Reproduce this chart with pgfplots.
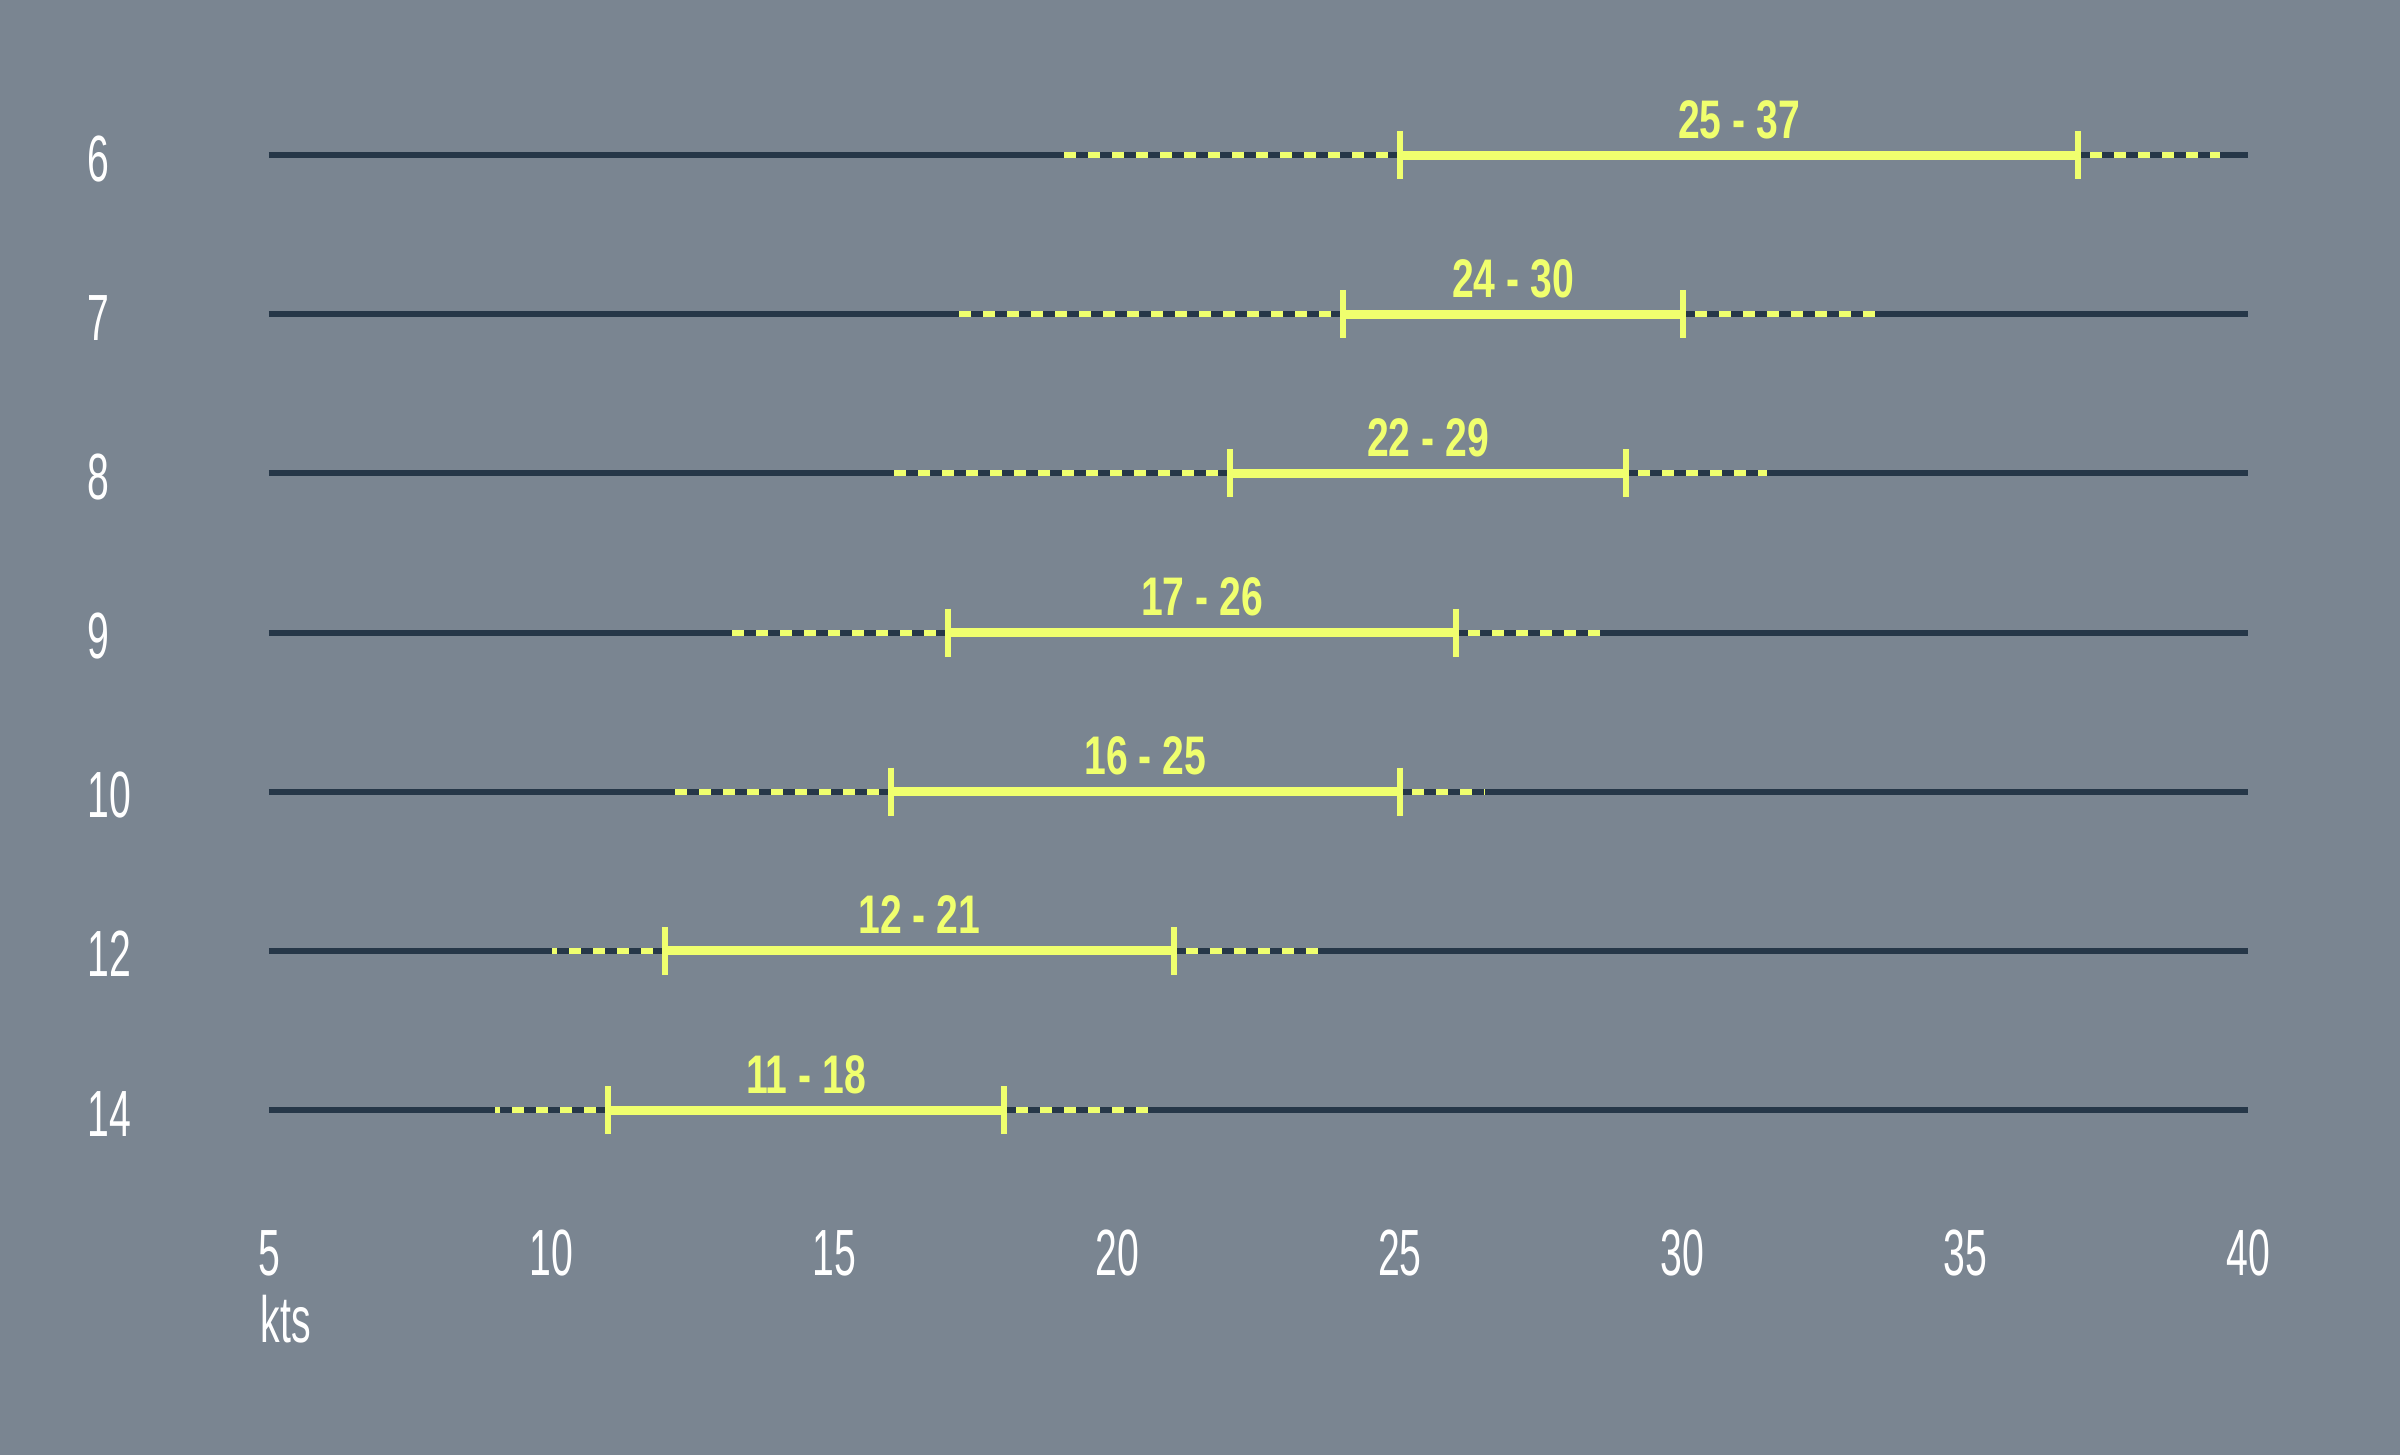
\documentclass[border=0pt]{standalone}
\usepackage{fontspec}
\setmainfont{Liberation Sans}[FakeStretch=0.6]
\newfontfamily\labfont{Liberation Sans}[FakeStretch=0.72]
\usepackage{pgfplots}
\pgfplotsset{compat=1.18}

\definecolor{bg}{RGB}{122,133,145}
\definecolor{rail}{RGB}{38,55,72}
\definecolor{hi}{RGB}{240,255,110}

\tikzset{
  lab/.style={pos=0.5, anchor=base, yshift=5.1pt, inner sep=0pt, text=hi,
    font=\labfont\bfseries\fontsize{16.3}{18}\selectfont},
}
\pgfplotsset{
  railline/.style={rail, line width=1.8pt, forget plot},
  ext/.style={hi, line width=1.8pt, dash pattern=on 3.6pt off 3.6pt, dash phase=3.6pt, forget plot},
  span/.style={hi, line width=2.7pt, mark=|, mark size=7.2pt,
    mark options={line width=1.8pt, solid}, forget plot},
}

\begin{document}
\begin{tikzpicture}
\fill[bg] (0,0) rectangle (720pt,436.5pt);
\begin{axis}[
  at={(80.7pt,103.5pt)}, anchor=south west,
  scale only axis,
  width=593.7pt, height=286.5pt,
  xmin=5, xmax=40,
  ymin=0, ymax=6, y dir=reverse,
  clip=false,
  axis line style={draw=none},
  major tick length=0pt,
  xtick={5,10,15,20,25,30,35,40},
  xticklabels={5,10,15,20,25,30,35,40},
  ytick={0,1,2,3,4,5,6},
  yticklabels={6,7,8,9,10,12,14},
  tick label style={text=white, inner sep=0pt, font=\fontsize{19.6}{22}\selectfont},
  xticklabel style={anchor=base, yshift=-49.5pt},
  yticklabel style={anchor=base west, xshift=-54.7pt, yshift=-7.8pt},
]
% row 6
\addplot[railline] coordinates {(5,0) (40,0)};
\addplot[ext] coordinates {(25,0) (19,0)};
\addplot[ext] coordinates {(37,0) (39.5,0)};
\addplot[span] coordinates {(25,0) (37,0)} node[lab] {25 - 37};
% row 7
\addplot[railline] coordinates {(5,1) (40,1)};
\addplot[ext] coordinates {(24,1) (17,1)};
\addplot[ext] coordinates {(30,1) (33.6,1)};
\addplot[span] coordinates {(24,1) (30,1)} node[lab] {24 - 30};
% row 8
\addplot[railline] coordinates {(5,2) (40,2)};
\addplot[ext] coordinates {(22,2) (16,2)};
\addplot[ext] coordinates {(29,2) (31.5,2)};
\addplot[span] coordinates {(22,2) (29,2)} node[lab] {22 - 29};
% row 9
\addplot[railline] coordinates {(5,3) (40,3)};
\addplot[ext] coordinates {(17,3) (13,3)};
\addplot[ext] coordinates {(26,3) (28.6,3)};
\addplot[span] coordinates {(17,3) (26,3)} node[lab] {17 - 26};
% row 10
\addplot[railline] coordinates {(5,4) (40,4)};
\addplot[ext] coordinates {(16,4) (12,4)};
\addplot[ext] coordinates {(25,4) (26.5,4)};
\addplot[span] coordinates {(16,4) (25,4)} node[lab] {16 - 25};
% row 12
\addplot[railline] coordinates {(5,5) (40,5)};
\addplot[ext] coordinates {(12,5) (10,5)};
\addplot[ext] coordinates {(21,5) (23.6,5)};
\addplot[span] coordinates {(12,5) (21,5)} node[lab] {12 - 21};
% row 14
\addplot[railline] coordinates {(5,6) (40,6)};
\addplot[ext] coordinates {(11,6) (9,6)};
\addplot[ext] coordinates {(18,6) (20.6,6)};
\addplot[span] coordinates {(11,6) (18,6)} node[lab] {11 - 18};
\end{axis}
\node[anchor=base west, inner sep=0pt, text=white, font=\fontsize{19.6}{22}\selectfont]
  at (78pt,33.9pt) {kts};
\pgfresetboundingbox
\path[use as bounding box] (0,0) rectangle (720pt,436.5pt);
\end{tikzpicture}
\end{document}
